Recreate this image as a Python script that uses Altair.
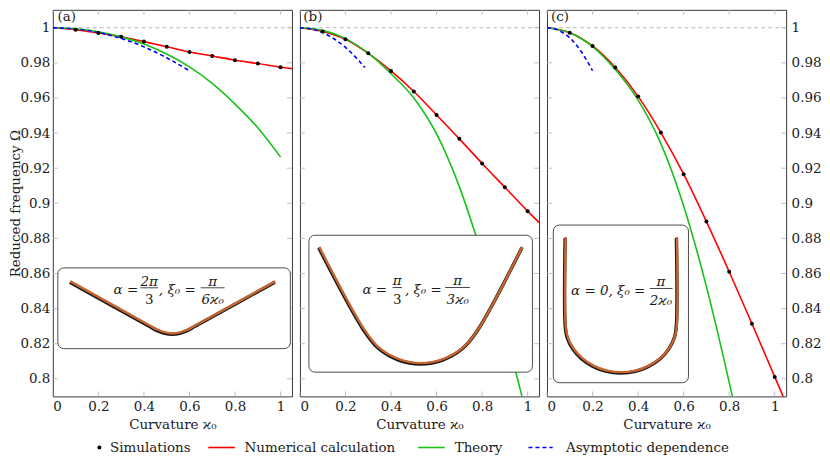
import altair as alt
import pandas as pd

# ---------------- data ----------------
SIM_X = [0.1, 0.2, 0.3, 0.4, 0.5, 0.6, 0.7, 0.8, 0.9, 1.0]
SIM_A = [0.9989, 0.9970, 0.9949, 0.9921, 0.9892, 0.9862, 0.9839, 0.9815, 0.9796, 0.9775]
SIM_B = [0.9979, 0.9934, 0.9854, 0.9754, 0.9637, 0.9503, 0.9367, 0.9227, 0.9091, 0.8955]
SIM_C = [0.9972, 0.9896, 0.9773, 0.9609, 0.9403, 0.9166, 0.8896, 0.8610, 0.8314, 0.8011]

NUM_X = [0.0, 0.1, 0.2, 0.3, 0.4, 0.5, 0.6, 0.7, 0.8, 0.9, 1.0, 1.05]
NUM_A = [1.0, 0.9989, 0.9970, 0.9949, 0.9921, 0.9892, 0.9862, 0.9839, 0.9815, 0.9796, 0.9775, 0.9767]
NUM_B = [1.0, 0.9979, 0.9934, 0.9854, 0.9754, 0.9637, 0.9503, 0.9367, 0.9227, 0.9091, 0.8955, 0.8890]
NUM_C = [1.0, 0.9972, 0.9896, 0.9773, 0.9609, 0.9403, 0.9166, 0.8896, 0.8610, 0.8314, 0.8011, 0.7860]

TH_A_X = [0.0, 0.1, 0.2, 0.3, 0.4, 0.5, 0.6, 0.7, 0.8, 0.9, 1.0]
TH_A = [1.0, 0.9994, 0.9977, 0.9948, 0.9907, 0.9850, 0.9777, 0.9683, 0.9565, 0.9430, 0.9263]
TH_B_X = [0.0, 0.1, 0.2, 0.3, 0.4, 0.5, 0.6, 0.7, 0.8, 0.9, 0.975]
TH_B = [1.0, 0.9985, 0.9938, 0.9855, 0.9738, 0.9600, 0.9395, 0.9095, 0.8705, 0.8275, 0.7900]
TH_C_X = [0.0, 0.1, 0.2, 0.3, 0.4, 0.5, 0.6, 0.7, 0.8, 0.814]
TH_C = [1.0, 0.9972, 0.9893, 0.9762, 0.9588, 0.9340, 0.8985, 0.8525, 0.7980, 0.7900]

AS_A_X = [0.0, 0.1, 0.2, 0.3, 0.4, 0.5, 0.6]
AS_A = [1.0, 0.9993, 0.9973, 0.9939, 0.9891, 0.9829, 0.9754]
AS_B_X = [0.0, 0.05, 0.1, 0.15, 0.2, 0.25, 0.285]
AS_B = [1.0, 0.9993, 0.9972, 0.9937, 0.9888, 0.9825, 0.9773]
AS_C_X = [0.0, 0.05, 0.1, 0.15, 0.2]
AS_C = [1.0, 0.9985, 0.9942, 0.9865, 0.9755]

X_TICKS = [0, 0.2, 0.4, 0.6, 0.8, 1.0]
Y_TICKS = [0.8, 0.82, 0.84, 0.86, 0.88, 0.9, 0.92, 0.94, 0.96, 0.98, 1.0]

SERIES = ["Simulations", "Numerical calculation", "Theory", "Asymptotic dependence"]
SERIES_COLORS = ["#000000", "#ff0000", "#19c019", "#0000ff"]

# inset rod shapes, in box-relative units (u across, v down)
SHAPE_A_U = [0.054, 0.393, 0.427, 0.462, 0.494, 0.526, 0.560, 0.594, 0.935]
SHAPE_A_V = [0.167, 0.710, 0.763, 0.799, 0.812, 0.799, 0.763, 0.710, 0.167]
SHAPE_B_U = [0.046, 0.251, 0.315, 0.403, 0.502, 0.600, 0.688, 0.753, 0.955]
SHAPE_B_V = [0.085, 0.697, 0.823, 0.905, 0.934, 0.905, 0.823, 0.697, 0.085]
SHAPE_C_U = [0.091, 0.091, 0.105, 0.147, 0.212, 0.297, 0.397, 0.503, 0.609, 0.708, 0.794, 0.858, 0.900, 0.914, 0.914]
SHAPE_C_V = [0.076, 0.627, 0.706, 0.780, 0.843, 0.892, 0.923, 0.933, 0.923, 0.892, 0.843, 0.780, 0.706, 0.627, 0.076]

# ---------------- layout ----------------
W, H = 240, 388
XDOM = [0, 1.05]
YDOM = [0.79, 1.0102]
SERIF = "DejaVu Serif"
FS = 13.5
FRAME = "#3a3a3a"
TICKC = "#b8b8b8"
ROD = "#c8642f"
TXT = "#1a1a1a"

# inset boxes in data units: x0, x1, y0 (top), y1 (bottom)
BOX_A = (0.0219, 1.043, 0.8632, 0.8172)
BOX_B = (0.0394, 1.021, 0.8818, 0.8038)
BOX_C = (0.0276, 0.6212, 0.8876, 0.7978)

# formula pieces: (kind, text, x, y, align/x2) in panel pixels
FORM_A = [("t", "α =", 85.7, 285.5, "right"), ("t", "2π", 96.7, 276.8, "center"),
          ("b", None, 87.7, 279, 105.7), ("t", "3", 96.7, 295.7, "center"),
          ("t", ", ξ₀ =", 143.4, 285.5, "right"), ("t", "π", 160.4, 276.8, "center"),
          ("b", None, 148.4, 279, 172.4), ("t", "6ϰ₀", 160.4, 295.7, "center")]
FORM_B = [("t", "α =", 87.4, 285, "right"), ("t", "π", 97.7, 276.5, "center"),
          ("b", None, 93, 278.7, 102.4), ("t", "3", 97.7, 295, "center"),
          ("t", ", ξ₀ =", 142.4, 285, "right"), ("t", "π", 158.4, 276.5, "center"),
          ("b", None, 145.7, 278.7, 170.7), ("t", "3ϰ₀", 158.4, 295, "center")]
FORM_C = [("t", "α = 0, ξ₀ =", 98.7, 286, "right"), ("t", "π", 114.3, 277.5, "center"),
          ("b", None, 103, 279.7, 126), ("t", "2ϰ₀", 114.3, 296, "center")]

# legend layout (panel-(a) pixels): symbol x-start, symbol x-end, label x
LEG_SYM_Y = 439.3
LEG_TXT_Y = 444.3
LEG_POS = [(46.7, 46.7, 57.4), (156.0, 182.7, 192.4), (366.7, 393.4, 403.4), (477.4, 501.7, 515.0)]

xs = alt.Scale(domain=XDOM, nice=False, zero=False)
ys = alt.Scale(domain=YDOM, nice=False, zero=False)
one = pd.DataFrame({"k": [0]})


def legend_layers():
    out = []
    for name, color, (s0, s1, tx) in zip(SERIES, SERIES_COLORS, LEG_POS):
        if name == "Simulations":
            out.append(alt.Chart(one).mark_point(filled=True, size=16, opacity=1, color=color)
                       .encode(x=alt.value(s0), y=alt.value(LEG_SYM_Y)))
        else:
            kw = {"strokeDash": [4, 3]} if name == "Asymptotic dependence" else {}
            out.append(alt.Chart(one).mark_rule(color=color, strokeWidth=1.6, **kw)
                       .encode(x=alt.value(s0), x2=alt.value(s1), y=alt.value(LEG_SYM_Y)))
        out.append(alt.Chart(one).mark_text(text=name, font=SERIF, fontSize=FS, align="left",
                                            baseline="alphabetic", color=TXT)
                   .encode(x=alt.value(tx), y=alt.value(LEG_TXT_Y)))
    return out


def panel(tag, tag_x, num_y, th_x, th_y, as_x, as_y, sim_y, box, su, sv, form, yaxis, with_legend=False):
    xaxis = alt.Axis(values=X_TICKS, format="~g", title="Curvature ϰ₀", ticks=False,
                     domain=False, grid=False, labelPadding=3.5, titlePadding=4)

    def X(f):
        return alt.X(f, type="quantitative", scale=xs, axis=xaxis)

    def Y(f):
        return alt.Y(f, type="quantitative", scale=ys, axis=yaxis)

    layers = []
    layers.append(alt.Chart(pd.DataFrame({"y": [1.0]})).mark_rule(
        color="#b0b0b0", strokeDash=[4, 3], strokeWidth=0.9).encode(y=Y("y")))
    xt = pd.DataFrame({"x": X_TICKS})
    yt = pd.DataFrame({"y": Y_TICKS})
    layers.append(alt.Chart(xt).mark_rule(color=TICKC, strokeWidth=0.9).encode(
        x=X("x"), y=alt.value(H), y2=alt.value(H - 5)))
    layers.append(alt.Chart(xt).mark_rule(color=TICKC, strokeWidth=0.9).encode(
        x=X("x"), y=alt.value(0), y2=alt.value(5)))
    layers.append(alt.Chart(yt).mark_rule(color=TICKC, strokeWidth=0.9).encode(
        y=Y("y"), x=alt.value(0), x2=alt.value(5)))
    layers.append(alt.Chart(yt).mark_rule(color=TICKC, strokeWidth=0.9).encode(
        y=Y("y"), x=alt.value(W - 5), x2=alt.value(W)))

    layers.append(alt.Chart(pd.DataFrame({"x": NUM_X, "y": num_y})).mark_line(
        color=SERIES_COLORS[1], strokeWidth=1.6, clip=True, interpolate="monotone").encode(
        x=X("x"), y=Y("y")))
    layers.append(alt.Chart(pd.DataFrame({"x": th_x, "y": th_y})).mark_line(
        color=SERIES_COLORS[2], strokeWidth=1.6, clip=True, interpolate="monotone").encode(
        x=X("x"), y=Y("y")))
    layers.append(alt.Chart(pd.DataFrame({"x": as_x, "y": as_y})).mark_line(
        color=SERIES_COLORS[3], strokeWidth=1.6, strokeDash=[4, 3], clip=True,
        interpolate="monotone").encode(x=X("x"), y=Y("y")))
    layers.append(alt.Chart(pd.DataFrame({"x": SIM_X, "y": sim_y})).mark_point(
        filled=True, size=16, opacity=1, color=SERIES_COLORS[0]).encode(x=X("x"), y=Y("y")))

    # inset box
    bx0, bx1, by0, by1 = box
    layers.append(alt.Chart(pd.DataFrame({"x0": [bx0], "x1": [bx1], "y0": [by0], "y1": [by1]}))
                  .mark_rect(fill="white", stroke=FRAME, strokeWidth=0.9, cornerRadius=6)
                  .encode(x=X("x0"), x2=alt.X2("x1"), y=Y("y0"), y2=alt.Y2("y1")))
    sdf = pd.DataFrame({"u": su, "v": sv, "i": list(range(len(su)))})
    base = alt.Chart(sdf).transform_calculate(
        sx=f"{bx0} + datum.u * {bx1 - bx0}",
        sy=f"{by0} + datum.v * {by1 - by0}",
        sy2=f"{by0} + datum.v * {by1 - by0} - 0.0005",
        sx2=f"{bx0} + datum.u * {bx1 - bx0} - 0.002",
    )
    layers.append(base.mark_line(color="#151515", strokeWidth=3.4, interpolate="catmull-rom")
                  .encode(x=X("sx2"), y=Y("sy2"), order="i:Q"))
    layers.append(base.mark_line(color=ROD, strokeWidth=2.4, interpolate="catmull-rom")
                  .encode(x=X("sx"), y=Y("sy"), order="i:Q"))

    for kind, txt, a, b, c in form:
        if kind == "t":
            layers.append(alt.Chart(one).mark_text(
                text=txt, font=SERIF, fontSize=FS, align=c, baseline="alphabetic",
                color=TXT, fontStyle="italic" if any(ch in txt for ch in "αξπϰ") else "normal")
                .encode(x=alt.value(a), y=alt.value(b)))
        else:
            layers.append(alt.Chart(one).mark_rule(color=TXT, strokeWidth=0.8).encode(
                x=alt.value(a), x2=alt.value(c), y=alt.value(b)))

    layers.append(alt.Chart(one).mark_text(text=tag, font=SERIF, fontSize=FS, align="left",
                                           baseline="top", color=TXT)
                  .encode(x=alt.value(tag_x), y=alt.value(0)))
    if with_legend:
        layers.extend(legend_layers())
    return alt.layer(*layers).properties(width=W, height=H)


yaxis_left = alt.Axis(values=Y_TICKS, format="~g", title="Reduced frequency Ω", ticks=False,
                      domain=False, grid=False, labelPadding=3, titlePadding=-3)
yaxis_right = alt.Axis(values=Y_TICKS, format="~g", title=None, orient="right", ticks=False,
                       domain=False, grid=False, labelPadding=5)

pa = panel("(a)", 4.7, NUM_A, TH_A_X, TH_A, AS_A_X, AS_A, SIM_A, BOX_A, SHAPE_A_U, SHAPE_A_V, FORM_A,
           yaxis_left, with_legend=True)
pb = panel("(b)", 3.4, NUM_B, TH_B_X, TH_B, AS_B_X, AS_B, SIM_B, BOX_B, SHAPE_B_U, SHAPE_B_V, FORM_B, None)
pc = panel("(c)", 4.0, NUM_C, TH_C_X, TH_C, AS_C_X, AS_C, SIM_C, BOX_C, SHAPE_C_U, SHAPE_C_V, FORM_C, yaxis_right)

chart = alt.hconcat(pa, pb, pc, spacing=8, bounds="flush").properties(
    padding={"left": 0, "top": 0, "right": 0, "bottom": 0}
).configure_axis(
    labelFont=SERIF, labelFontSize=FS, titleFont=SERIF, titleFontSize=FS,
    titleFontWeight="normal", labelColor=TXT, titleColor=TXT
).configure_view(stroke=FRAME, strokeWidth=1)

chart.save("out.html", embed_options={"renderer": "svg", "actions": False})
